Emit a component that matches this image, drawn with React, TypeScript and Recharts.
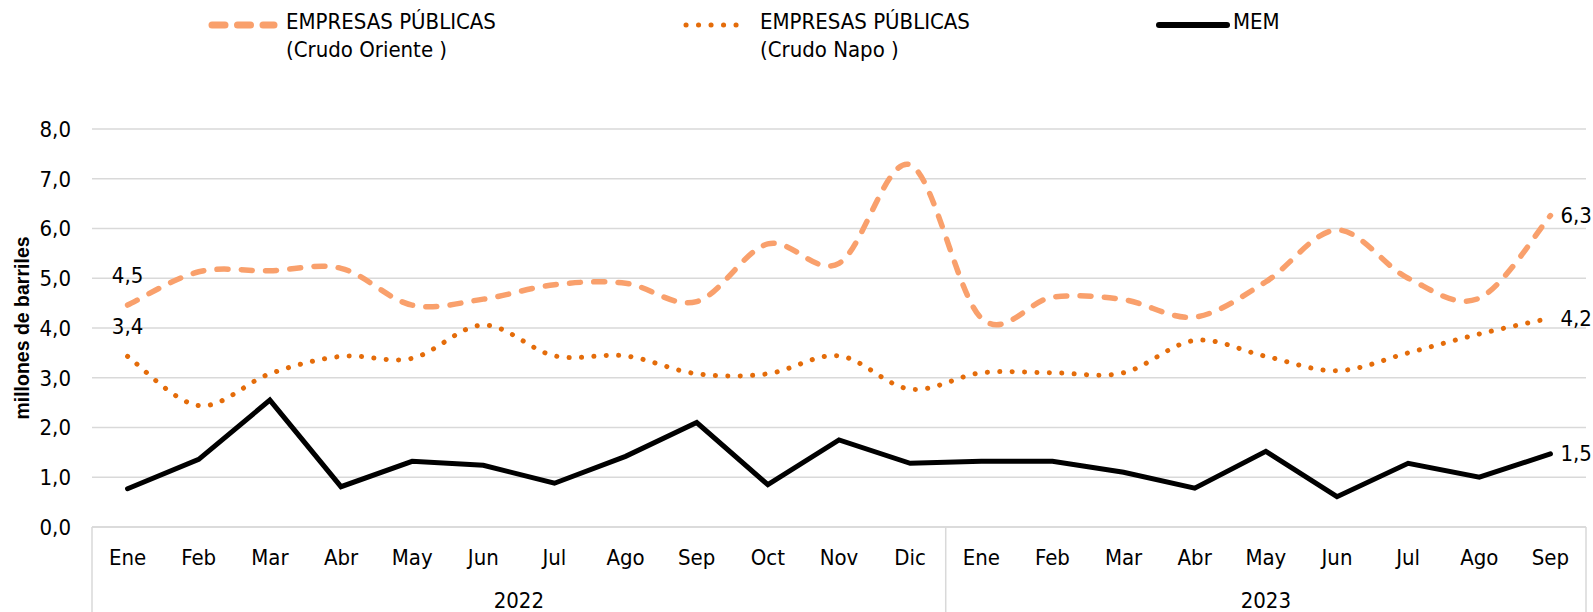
import { CartesianGrid, LabelList, Line, LineChart, XAxis, YAxis } from 'recharts'

const months = ['Ene', 'Feb', 'Mar', 'Abr', 'May', 'Jun', 'Jul', 'Ago', 'Sep', 'Oct', 'Nov', 'Dic',
  'Ene', 'Feb', 'Mar', 'Abr', 'May', 'Jun', 'Jul', 'Ago', 'Sep']
const years = ['2022', '2022', '2022', '2022', '2022', '2022', '2022', '2022', '2022', '2022', '2022', '2022',
  '2023', '2023', '2023', '2023', '2023', '2023', '2023', '2023', '2023']

// millones de barriles
const crudoOriente = [4.46, 5.13, 5.15, 5.2, 4.46, 4.58, 4.87, 4.9, 4.53, 5.69, 5.3, 7.28,
  4.2, 4.62, 4.57, 4.22, 4.93, 5.97, 5.0, 4.6, 6.26]
const crudoNapo = [3.43, 2.44, 3.08, 3.43, 3.39, 4.06, 3.44, 3.44, 3.08, 3.08, 3.44, 2.77,
  3.1, 3.1, 3.1, 3.75, 3.43, 3.14, 3.5, 3.88, 4.2]
const mem = [0.77, 1.36, 2.55, 0.81, 1.32, 1.24, 0.88, 1.42, 2.1, 0.85, 1.75, 1.28,
  1.32, 1.32, 1.1, 0.78, 1.52, 0.61, 1.28, 1.0, 1.47]

const yTicks = [0, 1, 2, 3, 4, 5, 6, 7, 8]
const legendNames = [['EMPRESAS PÚBLICAS', '(Crudo Oriente )'], ['EMPRESAS PÚBLICAS', '(Crudo Napo )'], ['MEM']]

const data = months.map((m, i) => ({
  id: `${m}-${years[i]}`,
  oriente: crudoOriente[i],
  napo: crudoNapo[i],
  mem: mem[i],
}))

const NARROW = '"Liberation Sans Narrow", "Arial Narrow", "DejaVu Sans Condensed", sans-serif'
const ORIENTE = '#F9A06C'
const NAPO = '#E46C0A'
const GRID = '#d9d9d9'

const fmt = (v: number) => v.toFixed(1).replace('.', ',')

// smoothing close to the spreadsheet one (Catmull-Rom through every point)
function smoothCurve(context: any) {
  let pts: number[][] = []
  return {
    areaStart() {},
    areaEnd() {},
    lineStart() { pts = [] },
    point(x: number, y: number) { pts.push([+x, +y]) },
    lineEnd() {
      if (!pts.length) return
      context.moveTo(pts[0][0], pts[0][1])
      for (let i = 0; i < pts.length - 1; i++) {
        const p0 = pts[i - 1] || pts[i]
        const p1 = pts[i]
        const p2 = pts[i + 1]
        const p3 = pts[i + 2] || p2
        context.bezierCurveTo(
          p1[0] + (p2[0] - p0[0]) / 6, p1[1] + (p2[1] - p0[1]) / 6,
          p2[0] - (p3[0] - p1[0]) / 6, p2[1] - (p3[1] - p1[1]) / 6,
          p2[0], p2[1],
        )
      }
    },
  }
}

function MonthTick(props: any) {
  const { x, y, payload } = props
  const i = payload.index
  const half = payload.offset || 35.57
  const parts = [
    <text key="m" x={x} y={y + 37.5} textAnchor="middle" fontFamily={NARROW} fontSize={22} fill="#000">
      {months[i]}
    </text>,
  ]
  if (i === 0 || years[i] !== years[i - 1]) {
    const len = years.filter((yr) => yr === years[i]).length
    parts.push(<line key="s" x1={x - half} x2={x - half} y1={y} y2={y + 90} stroke={GRID} strokeWidth={1.5} />)
    parts.push(
      <text key="y" x={x - half + len * half} y={y + 80.5} textAnchor="middle" fontFamily={NARROW} fontSize={22} fill="#000">
        {years[i]}
      </text>,
    )
  }
  if (i === months.length - 1) {
    parts.push(<line key="e" x1={x + half} x2={x + half} y1={y} y2={y + 90} stroke={GRID} strokeWidth={1.5} />)
  }
  return <g>{parts}</g>
}

function makeLabel(showFirst: boolean) {
  return (props: any) => {
    const { x, y, value, index } = props
    if (index === months.length - 1) {
      return (
        <text x={x + 10} y={y + 7.5} textAnchor="start" fontFamily={NARROW} fontSize={22} fill="#000">
          {fmt(value)}
        </text>
      )
    }
    if (showFirst && index === 0) {
      return (
        <text x={x} y={y - 22.5} textAnchor="middle" fontFamily={NARROW} fontSize={22} fill="#000">
          {fmt(value)}
        </text>
      )
    }
    return null
  }
}

function YTitle(props: any) {
  const vb = props.viewBox || { y: 129, height: 398 }
  const cy = vb.y + vb.height / 2
  return (
    <text x={22} y={cy} transform={`rotate(-90 22 ${cy})`} textAnchor="middle" dominantBaseline="central"
      fontFamily='"Liberation Sans", Arial, sans-serif' fontWeight="bold" fontSize={19.5} fill="#000">
      millones de barriles
    </text>
  )
}

function LegendIcon({ kind }: { kind: number }) {
  if (kind === 0) {
    return (
      <svg width={70} height={12}>
        <line x1={4} x2={66} y1={6} y2={6} stroke={ORIENTE} strokeWidth={7} strokeLinecap="round" strokeDasharray="13 12.5" />
      </svg>
    )
  }
  if (kind === 1) {
    return (
      <svg width={70} height={12}>
        <line x1={4} x2={66} y1={6} y2={6} stroke={NAPO} strokeWidth={5} strokeLinecap="round" strokeDasharray="0.1 12.4" />
      </svg>
    )
  }
  return (
    <svg width={74} height={12}>
      <line x1={3} x2={71} y1={6} y2={6} stroke="#000" strokeWidth={6} strokeLinecap="round" />
    </svg>
  )
}

const legendLeft = [208, 682, 1156]

export default function App() {
  return (
    <div style={{ position: 'absolute', left: 0, top: 0, width: 1593, height: 612, background: '#fff' }}>
      {legendNames.map((lines, k) => (
        <div key={k} style={{ position: 'absolute', left: legendLeft[k], top: 8, display: 'flex', alignItems: 'flex-start' }}>
          <div style={{ marginTop: 9 }}>
            <LegendIcon kind={k} />
          </div>
          <div style={{ fontFamily: NARROW, fontSize: 22, lineHeight: '28px', marginLeft: k === 2 ? 3 : 8, color: '#000' }}>
            {lines.map((t) => (
              <div key={t} style={{ whiteSpace: 'pre' }}>{t}</div>
            ))}
          </div>
        </div>
      ))}
      <LineChart width={1593} height={612} data={data} margin={{ top: 129, right: 7, bottom: 0, left: 0 }}>
        <CartesianGrid vertical={false} stroke={GRID} strokeWidth={1.5} />
        <XAxis dataKey="id" scale="band" interval={0} height={85} tickSize={0} tickMargin={0}
          axisLine={{ stroke: GRID, strokeWidth: 1.5 }} tick={<MonthTick />} />
        <YAxis domain={[0, 8]} ticks={yTicks} width={92} tickSize={0} tickMargin={21} axisLine={false} tickLine={false}
          tickFormatter={fmt} tick={{ fontFamily: NARROW, fontSize: 22, fill: '#000' }} label={<YTitle />} />
        <Line dataKey="oriente" type={smoothCurve as any} stroke={ORIENTE} strokeWidth={5.5} strokeLinecap="round"
          strokeDasharray="11 13.3" dot={false} activeDot={false} isAnimationActive={false}>
          <LabelList dataKey="oriente" content={makeLabel(true)} />
        </Line>
        <Line dataKey="napo" type={smoothCurve as any} stroke={NAPO} strokeWidth={5} strokeLinecap="round"
          strokeDasharray="0.1 12.3" dot={false} activeDot={false} isAnimationActive={false}>
          <LabelList dataKey="napo" content={makeLabel(true)} />
        </Line>
        <Line dataKey="mem" type="linear" stroke="#000" strokeWidth={5} strokeLinecap="round" strokeLinejoin="miter"
          dot={false} activeDot={false} isAnimationActive={false}>
          <LabelList dataKey="mem" content={makeLabel(false)} />
        </Line>
      </LineChart>
    </div>
  )
}
